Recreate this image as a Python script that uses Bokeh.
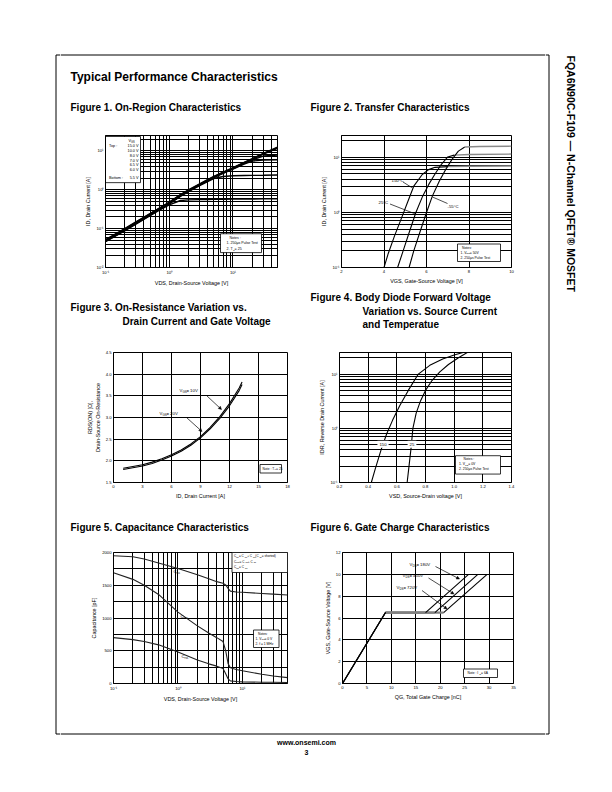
import math
from bokeh.plotting import figure
from bokeh.layouts import row, column
from bokeh.models import Range1d, FixedTicker, Arrow, NormalHead, Label
from bokeh.core.properties import value
from bokeh.embed import file_html
from bokeh.resources import INLINE

FONT = "Liberation Sans"

# ------------------------- data -------------------------
# Figure 1 - On-Region Characteristics (I_D vs V_DS, one series per V_GS)
f1_vds = [0.1, 0.2, 0.3, 0.5, 0.7, 1, 1.5, 2, 3, 4, 5, 7, 10, 15, 20, 30, 50]
f1_id_15v = [0.052, 0.10, 0.15, 0.245, 0.34, 0.48, 0.75, 0.99, 1.42, 1.84, 2.2, 2.85, 3.7, 5.1, 6.3, 8.7, 12.6]
f1_id_10v = [0.051, 0.098, 0.145, 0.24, 0.335, 0.47, 0.74, 0.97, 1.39, 1.8, 2.16, 2.8, 3.6, 5.0, 6.2, 8.5, 12.2]
f1_id_8v = [0.05, 0.096, 0.142, 0.235, 0.33, 0.46, 0.72, 0.95, 1.36, 1.76, 2.12, 2.75, 3.55, 4.9, 6.1, 8.3, 11.6]
f1_id_7v = [0.049, 0.094, 0.14, 0.23, 0.32, 0.45, 0.71, 0.93, 1.34, 1.73, 2.08, 2.7, 3.48, 4.8, 5.9, 7.4, 7.8]
f1_id_6v5 = [0.048, 0.092, 0.137, 0.225, 0.315, 0.44, 0.70, 0.92, 1.32, 1.7, 2.05, 2.66, 3.42, 4.6, 5.5, 5.8, 5.9]
f1_id_6v = [0.047, 0.09, 0.134, 0.22, 0.31, 0.43, 0.68, 0.9, 1.28, 1.62, 1.95, 2.2, 2.3, 2.33, 2.35, 2.37, 2.4]
f1_id_5v5 = [0.046, 0.088, 0.13, 0.215, 0.3, 0.41, 0.53, 0.55, 0.56, 0.565, 0.57, 0.57, 0.575, 0.58, 0.58, 0.585, 0.59]
f1_legend_values = ["15.0 V", "10.0 V", "8.0 V", "7.0 V", "6.5 V", "6.0 V", "5.5 V"]
f1_xticks = [0.1, 1, 10]
f1_xtick_labels = ["10⁻¹", "10⁰", "10¹"]
f1_yticks = [0.01, 0.1, 1, 10]
f1_ytick_labels = ["10⁻²", "10⁻¹", "10⁰", "10¹"]

# Figure 2 - Transfer Characteristics
f2_vgs_150 = [4.0, 4.2, 4.5, 4.8, 5.1, 5.4, 5.8, 6.1, 6.4, 7.0, 8.0, 10.0]
f2_id_150 = [0.1, 0.18, 0.38, 0.75, 1.5, 3.0, 4.9, 6.0, 6.6, 6.8, 6.9, 7.0]
f2_vgs_25 = [4.64, 4.9, 5.2, 5.5, 5.8, 6.1, 6.4, 6.7, 7.0, 7.3, 8.0, 10.0]
f2_id_25 = [0.1, 0.2, 0.45, 1.0, 1.9, 3.2, 5.0, 7.5, 10.2, 11.0, 11.3, 11.5]
f2_vgs_m55 = [5.18, 5.4, 5.7, 6.0, 6.28, 6.6, 6.9, 7.2, 7.5, 7.8, 8.5, 10.0]
f2_id_m55 = [0.1, 0.2, 0.45, 1.0, 2.0, 3.7, 6.0, 9.2, 13.0, 15.5, 15.8, 16.0]
f2_xticks = [2, 4, 6, 8, 10]
f2_yticks = [0.1, 1, 10]
f2_ytick_labels = ["10⁻¹", "10⁰", "10¹"]

# Figure 3 - On-Resistance vs Drain Current
f3_id = [1, 2, 3, 4, 5, 6, 7, 8, 9, 10, 11, 12, 13, 13.3]
f3_r_10v = [1.83, 1.87, 1.91, 1.97, 2.05, 2.14, 2.25, 2.39, 2.56, 2.77, 3.02, 3.32, 3.68, 3.82]
f3_r_20v = [1.80, 1.84, 1.88, 1.94, 2.02, 2.11, 2.22, 2.36, 2.53, 2.74, 2.98, 3.27, 3.62, 3.76]
f3_xticks = [0, 3, 6, 9, 12, 15, 18]
f3_yticks = [1.5, 2.0, 2.5, 3.0, 3.5, 4.0, 4.5]
f3_ytick_labels = ["1.5", "2.0", "2.5", "3.0", "3.5", "4.0", "4.5"]

# Figure 4 - Body Diode Forward Voltage
f4_vsd_150 = [0.422, 0.45, 0.49, 0.53, 0.57, 0.62, 0.68, 0.75, 0.83, 0.92, 1.0, 1.08]
f4_isd_150 = [0.1, 0.18, 0.4, 0.8, 1.4, 2.6, 5.0, 10.0, 14.5, 19.0, 22.5, 25.8]
f4_vsd_25 = [0.672, 0.685, 0.70, 0.712, 0.735, 0.765, 0.80, 0.845, 0.90, 0.96, 1.03, 1.10]
f4_isd_25 = [0.1, 0.2, 0.45, 1.0, 1.9, 3.2, 5.0, 7.6, 11.0, 15.0, 20.0, 25.8]
f4_xticks = [0.2, 0.4, 0.6, 0.8, 1.0, 1.2, 1.4]
f4_xtick_labels = ["0.2", "0.4", "0.6", "0.8", "1.0", "1.2", "1.4"]
f4_yticks = [0.1, 1, 10]
f4_ytick_labels = ["10⁻¹", "10⁰", "10¹"]

# Figure 5 - Capacitance Characteristics
f5_vds = [0.1, 0.2, 0.3, 0.5, 1, 2, 3, 4, 5, 5.5, 6, 6.5, 8, 10, 20, 30, 50]
f5_ciss = [1950, 1935, 1900, 1840, 1755, 1660, 1600, 1555, 1530, 1505, 1450, 1410, 1398, 1392, 1375, 1365, 1350]
f5_coss = [1690, 1590, 1500, 1360, 1090, 880, 770, 700, 640, 500, 300, 240, 215, 195, 140, 115, 90]
f5_crss = [700, 670, 640, 590, 480, 360, 300, 265, 230, 150, 70, 40, 30, 25, 20, 18, 15]
f5_xticks = [0.1, 1, 10]
f5_xtick_labels = ["10⁻¹", "10⁰", "10¹"]
f5_yticks = [0, 500, 1000, 1500, 2000]

# Figure 6 - Gate Charge Characteristics
f6_qg_180 = [0, 8.8, 17.0, 25.8]
f6_vgs_180 = [0, 6.5, 6.5, 10.0]
f6_qg_450 = [0, 8.8, 18.9, 27.7]
f6_vgs_450 = [0, 6.5, 6.5, 10.0]
f6_qg_720 = [0, 8.8, 20.7, 29.6]
f6_vgs_720 = [0, 6.5, 6.5, 10.0]
f6_xticks = [0, 5, 10, 15, 20, 25, 30, 35]
f6_yticks = [0, 2, 4, 6, 8, 10, 12]


def log_minors(lo_exp, hi_exp, upto=None):
    out = []
    for e in range(lo_exp, hi_exp + 1):
        for m in range(2, 10):
            v = m * 10.0 ** e
            if upto is None or v <= upto:
                out.append(v)
    return out


# ------------------------- helpers -------------------------
def base_fig(w, h, **kw):
    p = figure(width=w, height=h, toolbar_location=None, tools="", output_backend="svg",
               title=None, **kw)
    p.background_fill_color = "white"
    p.border_fill_color = "white"
    return p


def slab(x0, y0, w, h):
    p = base_fig(w, h, x_range=Range1d(x0, x0 + w), y_range=Range1d(y0 + h, y0),
                 x_axis_location=None, y_axis_location=None, min_border=0)
    p.min_border_left = p.min_border_right = p.min_border_top = p.min_border_bottom = 0
    p.outline_line_color = None
    p.grid.visible = False
    return p


def stext(p, X, Y, s, size, bold=False, align="left", angle=0.0):
    p.text(x=[X], y=[Y], text=[s], text_font=value(FONT), text_font_size=size,
           text_font_style="bold" if bold else "normal", text_align=align,
           text_baseline="middle", text_color="black", angle=angle)


def chart(ox, oy, w, h, frame, xr, yr, xlog=False, ylog=False):
    l, t, r, b = frame
    p = base_fig(w, h, x_range=Range1d(*xr), y_range=Range1d(*yr),
                 x_axis_type="log" if xlog else "linear",
                 y_axis_type="log" if ylog else "linear",
                 min_border_left=l - ox, min_border_right=ox + w - r,
                 min_border_top=t - oy, min_border_bottom=oy + h - b)
    p.outline_line_color = "black"
    p.outline_line_width = 1
    p.outline_line_alpha = 1
    for ax in list(p.xaxis) + list(p.yaxis):
        ax.axis_line_color = "black"
        ax.major_tick_out = 0
        ax.major_tick_in = 0
        ax.minor_tick_out = 0
        ax.minor_tick_in = 0
        ax.major_label_standoff = 2
        ax.axis_label_standoff = 2
        ax.major_label_text_font = FONT
        ax.major_label_text_font_size = "4.2px"
        ax.major_label_text_color = "black"
        ax.axis_label_text_font = FONT
        ax.axis_label_text_font_size = "5.4px"
        ax.axis_label_text_font_style = "normal"
        ax.axis_label_text_color = "black"
    for gr in list(p.xgrid) + list(p.ygrid):
        gr.grid_line_color = "black"
        gr.grid_line_width = 1
        gr.grid_line_alpha = 1
    g = dict(frame=frame, xr=xr, yr=yr, xlog=xlog, ylog=ylog)
    return p, g


def d(g, X, Y):
    l, t, r, b = g["frame"]

    def conv(v, a0, a1, lo, hi, log):
        f = (v - a0) / (a1 - a0)
        if log:
            return 10 ** (math.log10(lo) + f * (math.log10(hi) - math.log10(lo)))
        return lo + f * (hi - lo)

    return (conv(X, l, r, g["xr"][0], g["xr"][1], g["xlog"]),
            conv(Y, b, t, g["yr"][0], g["yr"][1], g["ylog"]))


def tw(s, size):
    w = 0.0
    for ch in s:
        if ch in "il.,:;|!'":
            w += 0.24
        elif ch in " []()-/tfjr":
            w += 0.32
        elif ch in "mwMW":
            w += 0.85
        elif ch in "=+":
            w += 0.58
        elif ch.isupper():
            w += 0.68
        else:
            w += 0.55
    return w * size


def rich(p, g, X, Y, parts, size):
    x = X
    for s, sub in parts:
        fs = size * 0.68 if sub else size
        yy = Y + size * 0.28 if sub else Y
        dx, dy = d(g, x, yy)
        p.text(x=[dx], y=[dy], text=[s], text_font=value(FONT), text_font_size=f"{fs:.2f}px",
               text_baseline="middle", text_align="left", text_color="black")
        x += tw(s, fs)


def ctext(p, g, X, Y, s, size, align="left"):
    dx, dy = d(g, X, Y)
    p.text(x=[dx], y=[dy], text=[s], text_font=value(FONT), text_font_size=size,
           text_baseline="middle", text_align=align, text_color="black")


def box(p, g, X0, Y0, X1, Y1, border=True):
    x0, y1 = d(g, X0, Y0)
    x1, y0 = d(g, X1, Y1)
    p.quad(left=[x0], right=[x1], bottom=[y0], top=[y1], fill_color="white",
           line_color="black" if border else None, line_width=0.8)


def arrow(p, g, X0, Y0, X1, Y1, head=True):
    xs, ys = d(g, X0, Y0)
    xe, ye = d(g, X1, Y1)
    if head:
        p.add_layout(Arrow(end=NormalHead(size=3, line_color="black", fill_color="black", line_width=0.5),
                           x_start=xs, y_start=ys, x_end=xe, y_end=ye,
                           line_color="black", line_width=0.7))
    else:
        p.segment(x0=[xs], y0=[ys], x1=[xe], y1=[ye], line_color="black", line_width=0.7)


# ------------------------- Figure 1 -------------------------
p1, g1 = chart(60, 125, 240, 165, (105, 134, 277, 267), (0.1, 50), (0.01, 25), True, True)
p1.xaxis.ticker = FixedTicker(ticks=f1_xticks, minor_ticks=log_minors(-1, 1, 40))
p1.yaxis.ticker = FixedTicker(ticks=f1_yticks, minor_ticks=log_minors(-2, 1, 20))
p1.xaxis.major_label_overrides = dict(zip(f1_xticks, f1_xtick_labels))
p1.yaxis.major_label_overrides = dict(zip(f1_yticks, f1_ytick_labels))
p1.xgrid.minor_grid_line_color = "black"
p1.ygrid.minor_grid_line_color = "black"
p1.xaxis.axis_label = "VDS, Drain-Source Voltage [V]"
p1.yaxis.axis_label = "ID, Drain Current [A]"
for ser in [f1_id_15v, f1_id_10v, f1_id_8v, f1_id_7v, f1_id_6v5, f1_id_6v, f1_id_5v5]:
    p1.line(f1_vds, ser, line_color="black", line_width=1.4)
box(p1, g1, 105, 135, 140, 181.5)
rich(p1, g1, 128, 139.5, [("V", False), ("GS", True)], 3.8)
ctext(p1, g1, 108.5, 144.5, "Top :", "3.8px")
ctext(p1, g1, 108.5, 176.5, "Bottom :", "3.8px")
for lab, Y in zip(f1_legend_values, [144.5, 150, 154.5, 159.5, 164, 168.5, 176.5]):
    ctext(p1, g1, 138, Y, lab, "3.8px", align="right")
box(p1, g1, 220, 233, 261, 252)
ctext(p1, g1, 229, 237.3, "Notes :", "3.6px")
ctext(p1, g1, 226, 242.7, "1. 250μs Pulse Test", "3.6px")
rich(p1, g1, 226, 248.3, [("2. T", False), ("C", True), (" = 25", False)], 3.6)

# ------------------------- Figure 2 -------------------------
p2, g2 = chart(300, 125, 245, 165, (341, 135, 511, 267), (2, 10), (0.1, 25), False, True)
p2.xaxis.ticker = FixedTicker(ticks=f2_xticks, minor_ticks=[3, 5, 7, 9])
p2.yaxis.ticker = FixedTicker(ticks=f2_yticks, minor_ticks=log_minors(-1, 1, 20))
p2.yaxis.major_label_overrides = dict(zip(f2_yticks, f2_ytick_labels))
p2.ygrid.minor_grid_line_color = "black"
p2.xaxis.axis_label = "VGS, Gate-Source Voltage [V]"
p2.yaxis.axis_label = "ID, Drain Current [A]"
for xs, ys in [(f2_vgs_150, f2_id_150), (f2_vgs_25, f2_id_25), (f2_vgs_m55, f2_id_m55)]:
    p2.line(xs[:-2], ys[:-2], line_color="black", line_width=1.1)
    p2.line(xs[-3:], ys[-3:], line_color="#8a8a8a", line_width=1.4)
ctext(p2, g2, 391, 180, "150°C", "4.3px")
arrow(p2, g2, 402.5, 181.5, 412, 187.5, head=False)
ctext(p2, g2, 378, 202, "25°C", "4.3px")
arrow(p2, g2, 389.5, 203.5, 415, 213.5, head=False)
ctext(p2, g2, 447, 206, "-55°C", "4.3px")
arrow(p2, g2, 447, 203, 432, 196.5, head=False)
box(p2, g2, 457, 243.5, 500, 261)
ctext(p2, g2, 461.5, 247.3, "Notes:", "3.4px")
rich(p2, g2, 460, 252, [("1. V", False), ("DS", True), (" = 50V", False)], 3.4)
ctext(p2, g2, 460, 257.5, "2. 250μs Pulse Test", "3.4px")

# ------------------------- Figure 3 -------------------------
p3, g3 = chart(60, 340, 240, 165, (113, 352, 287, 482), (0, 18), (1.5, 4.5))
p3.xaxis.ticker = FixedTicker(ticks=f3_xticks)
p3.yaxis.ticker = FixedTicker(ticks=f3_yticks)
p3.yaxis.major_label_overrides = dict(zip(f3_yticks, f3_ytick_labels))
p3.xaxis.axis_label = "ID, Drain Current [A]"
p3.yaxis.axis_label = "RDS(ON) [Ω],\nDrain-Source On-Resistance"
p3.line(f3_id, f3_r_10v, line_color="black", line_width=1.1)
p3.line(f3_id, f3_r_20v, line_color="black", line_width=1.1)
rich(p3, g3, 179, 390, [("V", False), ("GS", True), (" = 10V", False)], 4.3)
arrow(p3, g3, 206, 395, 221, 409)
rich(p3, g3, 159, 413, [("V", False), ("GS", True), (" = 20V", False)], 4.3)
arrow(p3, g3, 186, 417, 201.5, 431)
box(p3, g3, 259.5, 464, 281, 472.5)
rich(p3, g3, 262, 468, [("Note : T", False), ("J", True), (" = 25", False)], 3.3)

# ------------------------- Figure 4 -------------------------
p4, g4 = chart(300, 340, 245, 165, (339, 351, 511, 482), (0.2, 1.4), (0.1, 25), False, True)
p4.xaxis.ticker = FixedTicker(ticks=f4_xticks)
p4.xaxis.major_label_overrides = dict(zip(f4_xticks, f4_xtick_labels))
p4.yaxis.ticker = FixedTicker(ticks=f4_yticks, minor_ticks=log_minors(-1, 1, 20))
p4.yaxis.major_label_overrides = dict(zip(f4_yticks, f4_ytick_labels))
p4.ygrid.minor_grid_line_color = "black"
p4.xaxis.axis_label = "VSD, Source-Drain voltage [V]"
p4.yaxis.axis_label = "IDR, Reverse Drain Current [A]"
p4.line(f4_vsd_150, f4_isd_150, line_color="black", line_width=1.1)
p4.line(f4_vsd_25, f4_isd_25, line_color="black", line_width=1.1)
for txt, X in [("150", 382.5), ("25", 411.5)]:
    lx, ly = d(g4, X, 443.5)
    p4.add_layout(Label(x=lx, y=ly, text=txt, text_font=FONT, text_font_size="4.3px",
                        text_align="center", text_baseline="middle", text_color="black",
                        background_fill_color="white", padding=2))
box(p4, g4, 455, 455, 500, 473.5)
ctext(p4, g4, 463, 458.5, "Notes :", "3.4px")
rich(p4, g4, 458.5, 463.5, [("1. V", False), ("GS", True), (" = 0V", False)], 3.4)
ctext(p4, g4, 458.5, 468.8, "2. 250μs Pulse Test", "3.4px")

# ------------------------- Figure 5 -------------------------
p5, g5 = chart(60, 545, 240, 167, (113, 552, 287, 683), (0.1, 50), (0, 2000), True, False)
p5.xaxis.ticker = FixedTicker(ticks=f5_xticks, minor_ticks=log_minors(-1, 1, 40))
p5.yaxis.ticker = FixedTicker(ticks=f5_yticks, minor_ticks=[250, 750, 1250, 1750])
p5.xaxis.major_label_overrides = dict(zip(f5_xticks, f5_xtick_labels))
p5.xgrid.minor_grid_line_color = "black"
p5.ygrid.minor_grid_line_color = "black"
p5.xaxis.axis_label = "VDS, Drain-Source Voltage [V]"
p5.yaxis.axis_label = "Capacitance [pF]"
for ser in [f5_ciss, f5_coss, f5_crss]:
    p5.line(f5_vds, ser, line_color="#222222", line_width=1.1)
box(p5, g5, 231.5, 552, 287, 572)
rich(p5, g5, 233.5, 555.5, [("C", False), ("iss", True), (" = C", False), ("gs", True), (" + C", False),
                            ("gd", True), (" (C", False), ("ds", True), (" = shorted)", False)], 3.1)
rich(p5, g5, 233.5, 561, [("C", False), ("oss", True), (" = C", False), ("ds", True), (" + C", False), ("gd", True)], 3.1)
rich(p5, g5, 233.5, 566.5, [("C", False), ("rss", True), (" = C", False), ("gd", True)], 3.1)
rich(p5, g5, 173, 570.5, [("C", False), ("iss", True)], 4.3)
rich(p5, g5, 180, 616, [("C", False), ("oss", True)], 4.3)
rich(p5, g5, 181, 656, [("C", False), ("rss", True)], 4.3)
box(p5, g5, 253, 629.5, 278.5, 647)
ctext(p5, g5, 257.5, 633, "Notes:", "3.3px")
rich(p5, g5, 255, 638.3, [("1. V", False), ("GS", True), (" = 0 V", False)], 3.3)
ctext(p5, g5, 255, 643.5, "2. f = 1 MHz", "3.3px")

# ------------------------- Figure 6 -------------------------
p6, g6 = chart(300, 545, 245, 167, (342, 552, 513, 683), (0, 35), (0, 12))
p6.xaxis.ticker = FixedTicker(ticks=f6_xticks)
p6.yaxis.ticker = FixedTicker(ticks=f6_yticks)
p6.xaxis.axis_label = "QG, Total Gate Charge [nC]"
p6.yaxis.axis_label = "VGS, Gate-Source Voltage [V]"
for qs, vs in [(f6_qg_180, f6_vgs_180), (f6_qg_450, f6_vgs_450), (f6_qg_720, f6_vgs_720)]:
    p6.line(qs[1:3], vs[1:3], line_color="#808080", line_width=2.2)
for qs, vs in [(f6_qg_180, f6_vgs_180), (f6_qg_450, f6_vgs_450), (f6_qg_720, f6_vgs_720)]:
    p6.line(qs[:2], vs[:2], line_color="black", line_width=1.1)
    p6.line(qs[2:], vs[2:], line_color="black", line_width=1.1)
rich(p6, g6, 409, 563.5, [("V", False), ("DS", True), (" = 180V", False)], 4.3)
arrow(p6, g6, 435, 566, 459, 578.5)
rich(p6, g6, 402, 575, [("V", False), ("DS", True), (" = 450V", False)], 4.3)
arrow(p6, g6, 428, 577.5, 453.5, 593.5)
rich(p6, g6, 396, 587, [("V", False), ("DS", True), (" = 720V", False)], 4.3)
arrow(p6, g6, 421.5, 590, 446.5, 608.5)
box(p6, g6, 463, 668.5, 497, 677)
rich(p6, g6, 467, 672.5, [("Note : I", False), ("D", True), (" = 6A", False)], 3.3)

# ------------------------- page furniture -------------------------
# (the page is rendered with its top-left corner at (0, 0))
left = slab(0, 0, 60, 784)
left.segment(x0=[55.5, 55.5, 55.5], y0=[54.5, 54.5, 733.5], x1=[55.5, 60, 60], y1=[733.5, 54.5, 733.5],
             line_color="black", line_width=1)

right = slab(545, 0, 59, 784)
right.segment(x0=[548.5, 545, 545], y0=[54.5, 54.5, 733.5], x1=[548.5, 548.5, 548.5], y1=[733.5, 54.5, 733.5],
              line_color="black", line_width=1)
stext(right, 570, 55, "FQA6N90C-F109 — N-Channel QFET® MOSFET", "10.5px", bold=True, angle=-math.pi / 2)

header = slab(60, 0, 485, 125)
header.segment(x0=[60], y0=[54.5], x1=[545], y1=[54.5], line_color="black", line_width=1)
stext(header, 70, 76, "Typical Performance Characteristics", "12px", bold=True)
stext(header, 70, 107, "Figure 1. On-Region Characteristics", "10px", bold=True)
stext(header, 310, 107, "Figure 2. Transfer Characteristics", "10px", bold=True)

slab2 = slab(60, 290, 485, 50)
stext(slab2, 70, 307, "Figure 3. On-Resistance Variation vs.", "10px", bold=True)
stext(slab2, 122, 321, "Drain Current and Gate Voltage", "10px", bold=True)
stext(slab2, 310, 297, "Figure 4. Body Diode Forward Voltage", "10px", bold=True)
stext(slab2, 362, 311, "Variation vs. Source Current", "10px", bold=True)
stext(slab2, 362, 324, "and Temperatue", "10px", bold=True)

slab3 = slab(60, 505, 485, 40)
stext(slab3, 70, 527, "Figure 5. Capacitance Characteristics", "10px", bold=True)
stext(slab3, 310, 527, "Figure 6. Gate Charge Characteristics", "10px", bold=True)

footer = slab(60, 712, 485, 72)
footer.segment(x0=[60], y0=[733.5], x1=[545], y1=[733.5], line_color="black", line_width=1)
stext(footer, 306, 742, "www.onsemi.com", "7px", bold=True, align="center")
stext(footer, 306, 752, "3", "7px", bold=True, align="center")

main = column(header, row(p1, p2), slab2, row(p3, p4), slab3, row(p5, p6), footer)
page = row(left, main, right)

open("out.html", "w").write(file_html(page, INLINE))
